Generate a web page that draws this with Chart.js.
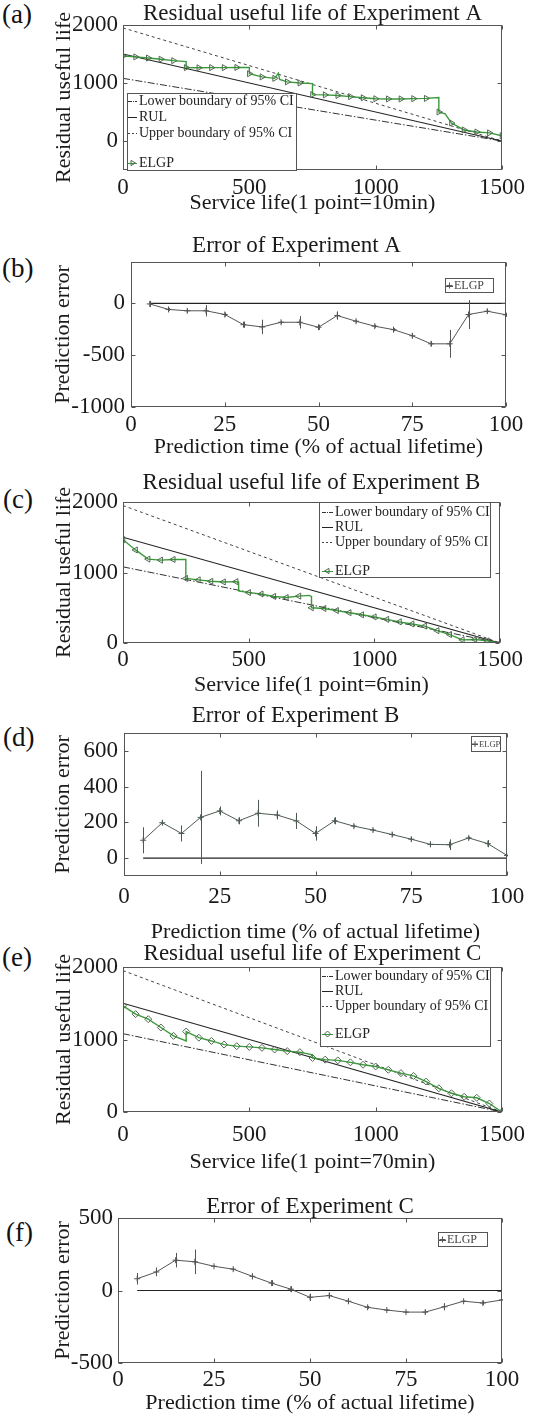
<!DOCTYPE html>
<html>
<head>
<meta charset="utf-8">
<script src="https://cdn.jsdelivr.net/npm/chart.js@4.4.1/dist/chart.umd.min.js"></script>
<style>
  html, body { margin:0; padding:0; background:#fff; }
  body { position:relative; width:554px; height:1415px; overflow:hidden; }
  canvas { position:absolute; left:0; }
  .pl { position:absolute; font-family:"Liberation Serif","Times New Roman",serif; font-size:27px; line-height:1; color:#111; }
</style>
</head>
<body>
<div class="pl" style="left:2px;top:1px">(a)</div>
<div class="pl" style="left:2px;top:255px">(b)</div>
<div class="pl" style="left:3px;top:486px">(c)</div>
<div class="pl" style="left:3px;top:724px">(d)</div>
<div class="pl" style="left:2px;top:944px">(e)</div>
<div class="pl" style="left:6px;top:1219px">(f)</div>

<canvas id="cA" width="554" height="216" style="top:0px"></canvas>
<canvas id="cB" width="554" height="230" style="top:230px"></canvas>
<canvas id="cC" width="554" height="238" style="top:460px"></canvas>
<canvas id="cD" width="554" height="245" style="top:700px"></canvas>
<canvas id="cE" width="554" height="235" style="top:940px"></canvas>
<canvas id="cF" width="554" height="246" style="top:1170px"></canvas>

<script>
// ---------------- DATA ----------------
// reference lines (service-life panels)
const rulX   = [0, 1500];
const rulY   = [1500, 0];
const lowerX = [0, 1500];
const lowerY = [1080, 0];
const upperX = [0, 1500];
const upperY = [1950, 0];

const serviceTicks = [0, 500, 1000, 1500];
const rulTicksA    = [0, 1000, 2000];
const rulTicksBC   = [0, 1000, 2000];
const pctTicks     = [0, 25, 50, 75, 100];
const errTicksA    = [-1000, -500, 0];
const errTicksB    = [0, 200, 400, 600];
const errTicksC    = [-500, 0, 500];

const legendLabels = ['Lower boundary of 95% CI', 'RUL', 'Upper boundary of 95% CI', 'ELGP'];
const errLegendLabel = 'ELGP';

// ELGP prediction, Experiment A (vertices; repeated x = vertical step)
const elgpA_x = [0, 50, 100, 150, 200, 250, 250, 300, 350, 400, 450, 500, 500, 550, 600, 615, 620, 650, 700, 750, 750, 800, 850, 900, 950, 1000, 1050, 1100, 1150, 1200, 1250, 1250, 1275, 1300, 1350, 1400, 1450, 1500];
const elgpA_y = [1465, 1450, 1430, 1410, 1385, 1370, 1265, 1262, 1265, 1265, 1268, 1270, 1160, 1105, 1080, 1170, 1060, 1020, 1000, 990, 800, 795, 785, 765, 745, 728, 725, 725, 730, 735, 750, 500, 470, 310, 190, 155, 140, 90];

// ELGP prediction, Experiment B
const elgpB_x = [0, 50, 100, 150, 200, 250, 250, 300, 350, 400, 450, 460, 460, 500, 550, 600, 650, 700, 740, 750, 750, 800, 850, 900, 950, 1000, 1050, 1100, 1150, 1200, 1250, 1300, 1350, 1400, 1450, 1500];
const elgpB_y = [1465, 1320, 1190, 1175, 1185, 1185, 915, 895, 875, 866, 870, 865, 740, 715, 695, 660, 645, 665, 675, 660, 500, 490, 460, 430, 400, 370, 335, 300, 270, 240, 175, 120, 45, 50, 30, 0];

// ELGP prediction, Experiment C
const elgpC_x = [0, 50, 100, 150, 200, 250, 250, 300, 350, 400, 450, 500, 550, 600, 650, 700, 750, 750, 800, 850, 900, 950, 1000, 1050, 1100, 1150, 1200, 1250, 1300, 1350, 1400, 1450, 1500];
const elgpC_y = [1465, 1350, 1280, 1165, 1050, 980, 1110, 1025, 980, 930, 908, 898, 885, 862, 840, 825, 790, 745, 722, 712, 685, 652, 628, 582, 536, 498, 420, 327, 258, 210, 196, 117, 0];

// prediction error (% of actual lifetime)
const errX   = [5, 10, 15, 20, 25, 30, 35, 40, 45, 50, 55, 60, 65, 70, 75, 80, 85, 90, 95, 100];
const errA   = [-5, -58, -71, -71, -107, -205, -227, -182, -182, -230, -117, -172, -220, -253, -312, -390, -390, -107, -75, -110];
const errA_e = [30, 15, 20, 55, 20, 30, 70, 15, 60, 25, 40, 15, 15, 15, 25, 25, 135, 140, 20, 20];
const errB   = [100, 198, 138, 228, 264, 209, 251, 241, 208, 138, 209, 179, 157, 132, 106, 77, 75, 113, 81, 15];
const errB_e = [73, 12, 45, 260, 25, 20, 75, 25, 45, 40, 20, 8, 8, 12, 12, 15, 30, 8, 20, 5];
const errC   = [81, 128, 209, 198, 167, 147, 98, 51, 9, -47, -35, -74, -116, -135, -149, -149, -112, -74, -86, -65];
const errC_e = [40, 30, 50, 85, 5, 10, 20, 20, 20, 25, 20, 20, 10, 5, 5, 15, 25, 5, 15, 5];
const zeroX  = [5, 100];
const zeroY  = [0, 0];

// ---------------- STYLE / HELPERS ----------------
const SERIF = '"Liberation Serif", "Times New Roman", serif';
Chart.defaults.font.family = SERIF;
Chart.defaults.color = '#1a1a1a';
Chart.defaults.animation = false;

const GREEN = '#3a9a3a';
const MARK  = '#4f6a4f';
const TICK_FS = 23, TITLE_FS = 23, AXT_FS = 22;
const xy = (xs, ys) => xs.map((x, i) => ({x: x, y: ys[i]}));

function markerRadius(ctx) {
  const d = ctx.dataset.data, i = ctx.dataIndex;
  if (d[i].x % 50 !== 0) return 0;
  if (i + 1 < d.length && d[i + 1].x === d[i].x) return 0;
  return 3.5;
}

function drawMarker(ctx, style, x, y, r, rot) {
  ctx.beginPath();
  if (style === 'triangle') {
    let a = (rot || 0) * Math.PI / 180;
    for (let k = 0; k < 3; k++) {
      const px = x + Math.sin(a) * r, py = y - Math.cos(a) * r;
      if (k === 0) ctx.moveTo(px, py); else ctx.lineTo(px, py);
      a += 2 * Math.PI / 3;
    }
    ctx.closePath();
  } else if (style === 'rectRot') {
    ctx.moveTo(x, y - r); ctx.lineTo(x + r, y); ctx.lineTo(x, y + r); ctx.lineTo(x - r, y); ctx.closePath();
  } else if (style === 'cross') {
    ctx.moveTo(x - r, y); ctx.lineTo(x + r, y); ctx.moveTo(x, y - r); ctx.lineTo(x, y + r);
  }
  ctx.stroke();
}

const titleShiftPlugin = {
  id: 'titleShift',
  afterLayout(chart, args, o) {
    if (o && o.dx && chart.titleBlock) {
      chart.titleBlock.left += o.dx;
      chart.titleBlock.right += o.dx;
    }
  }
};

const framePlugin = {
  id: 'frameTicks',
  afterDatasetsDraw(chart) {
    const {ctx, chartArea: a, scales} = chart;
    ctx.save();
    ctx.strokeStyle = '#555';
    ctx.lineWidth = 1;
    ctx.setLineDash([]);
    const L = Math.round(a.left) + 0.5, R = Math.round(a.right) - 0.5;
    const T = Math.round(a.top) + 0.5, B = Math.round(a.bottom) - 0.5;
    ctx.strokeRect(L, T, R - L, B - T);
    ctx.beginPath();
    scales.x.ticks.forEach(t => {
      const px = Math.round(scales.x.getPixelForValue(t.value)) + 0.5;
      ctx.moveTo(px, B); ctx.lineTo(px, B - 4);
      ctx.moveTo(px, T); ctx.lineTo(px, T + 4);
    });
    scales.y.ticks.forEach(t => {
      const py = Math.round(scales.y.getPixelForValue(t.value)) + 0.5;
      ctx.moveTo(L, py); ctx.lineTo(L + 4, py);
      ctx.moveTo(R, py); ctx.lineTo(R - 4, py);
    });
    ctx.stroke();
    ctx.restore();
  }
};

const errorBarPlugin = {
  id: 'errorBars',
  afterDatasetsDraw(chart) {
    const {ctx, scales} = chart;
    chart.data.datasets.forEach(ds => {
      if (!ds.errorBars) return;
      ctx.save();
      ctx.strokeStyle = ds.errorColor || '#444';
      ctx.lineWidth = 1;
      ctx.beginPath();
      ds.data.forEach((p, j) => {
        const e = ds.errorBars[j];
        const px = Math.round(scales.x.getPixelForValue(p.x)) + 0.5;
        ctx.moveTo(px, scales.y.getPixelForValue(p.y + e));
        ctx.lineTo(px, scales.y.getPixelForValue(p.y - e));
      });
      ctx.stroke();
      ctx.restore();
    });
  }
};

const legendPlugin = {
  id: 'boxLegend',
  afterDraw(chart, args, o) {
    if (!o || !o.box) return;
    const ctx = chart.ctx, b = o.box;
    ctx.save();
    ctx.fillStyle = '#fff';
    ctx.fillRect(b.x, b.y, b.w, b.h);
    ctx.strokeStyle = '#555'; ctx.lineWidth = 1; ctx.setLineDash([]);
    ctx.strokeRect(b.x + 0.5, b.y + 0.5, b.w - 1, b.h - 1);
    ctx.font = o.fontSize + 'px ' + SERIF;
    ctx.textBaseline = 'middle'; ctx.textAlign = 'left';
    o.items.forEach((it, k) => {
      const y = o.rows[k];
      ctx.strokeStyle = it.color; ctx.lineWidth = 1;
      if (it.dash) {
        ctx.setLineDash(it.dash);
        ctx.beginPath(); ctx.moveTo(o.sx0, Math.round(y) + 0.5); ctx.lineTo(o.sx1, Math.round(y) + 0.5); ctx.stroke();
      }
      ctx.setLineDash([]);
      if (it.marker) {
        ctx.strokeStyle = it.markerColor || it.color;
        drawMarker(ctx, it.marker, (o.sx0 + o.sx1) / 2, y, it.r || 3, it.rot || 0);
      }
      ctx.fillStyle = o.textColor || '#222';
      ctx.fillText(it.label, o.tx, y + 0.5);
    });
    ctx.restore();
  }
};

function makeChart(id, s) {
  const W = 554;
  const canvas = document.getElementById(id);
  const H = canvas.height;
  return new Chart(canvas, {
    type: 'line',
    data: { datasets: s.datasets },
    plugins: [titleShiftPlugin, framePlugin, errorBarPlugin, legendPlugin],
    options: {
      responsive: false,
      animation: false,
      events: [],
      layout: { padding: { left: 0, right: W - s.area.r, top: 0, bottom: 0 } },
      plugins: {
        legend: { display: false },
        tooltip: { enabled: false },
        title: {
          display: true, fullSize: false, text: s.title, color: '#1a1a1a',
          font: { size: TITLE_FS, weight: 'normal', family: SERIF, lineHeight: 1 },
          padding: { top: s.titleY - TITLE_FS / 2, bottom: s.area.t - s.titleY - TITLE_FS / 2 }
        },
        titleShift: { dx: s.titleDx || 0 },
        boxLegend: s.legend || {}
      },
      elements: { line: { tension: 0 } },
      scales: {
        x: {
          type: 'linear', min: s.xMin, max: s.xMax,
          grid: { display: false, drawTicks: false, tickLength: 0 }, border: { display: false },
          afterBuildTicks: sc => { sc.ticks = s.xTicks.map(v => ({value: v})); },
          afterFit: sc => { sc.height = H - s.area.b; },
          ticks: { font: { size: TICK_FS, family: SERIF, lineHeight: 1 }, color: '#1a1a1a',
                   padding: s.xTickY - s.area.b - TICK_FS / 2, maxRotation: 0, autoSkip: false,
                   callback: v => String(v) },
          title: { display: true, text: s.xTitle, color: '#1a1a1a',
                   font: { size: AXT_FS, family: SERIF, lineHeight: 1 },
                   padding: { top: 0, bottom: H - s.xTitleY - AXT_FS / 2 } }
        },
        y: {
          type: 'linear', min: s.yMin, max: s.yMax,
          grid: { display: false, drawTicks: false, tickLength: 0 }, border: { display: false },
          afterBuildTicks: sc => { sc.ticks = s.yTicks.map(v => ({value: v})); },
          afterFit: sc => { sc.width = s.area.l; },
          ticks: { font: { size: TICK_FS, family: SERIF, lineHeight: 1 }, color: '#1a1a1a',
                   padding: s.yTickPad, autoSkip: false, callback: v => String(v) },
          title: { display: true, text: s.yTitle, color: '#1a1a1a',
                   font: { size: AXT_FS, family: SERIF, lineHeight: 1 },
                   padding: { top: s.yTitleX - AXT_FS / 2, bottom: 0 } }
        }
      }
    }
  });
}

function rulDatasets(ex, ey, rot, style) {
  return [
    { data: xy(ex, ey), borderColor: GREEN, borderWidth: 1.4,
      pointStyle: style, pointRotation: rot, pointRadius: markerRadius,
      pointBorderColor: MARK, pointBackgroundColor: 'rgba(0,0,0,0)', pointBorderWidth: 1 },
    { data: xy(rulX, rulY), borderColor: '#222', borderWidth: 1.2, pointRadius: 0 },
    { data: xy(upperX, upperY), borderColor: '#444', borderWidth: 1, borderDash: [3, 3], pointRadius: 0 },
    { data: xy(lowerX, lowerY), borderColor: '#333', borderWidth: 1, borderDash: [7, 2, 1.5, 2], pointRadius: 0 }
  ];
}

function rulLegend(box, sx0, sx1, tx, rows, marker, rot) {
  return {
    box: box, sx0: sx0, sx1: sx1, tx: tx, rows: rows, fontSize: 14, textColor: '#222',
    items: [
      { label: legendLabels[0], color: '#333', dash: [4, 1, 1, 1] },
      { label: legendLabels[1], color: '#222', dash: [] },
      { label: legendLabels[2], color: '#444', dash: [2, 2] },
      { label: legendLabels[3], color: GREEN, dash: [], marker: marker, rot: rot, r: 3, markerColor: MARK }
    ]
  };
}

function errDatasets(ys, es, col) {
  return [
    { data: xy(errX, ys), borderColor: col, borderWidth: 1, pointStyle: 'cross', pointRadius: 3,
      pointBorderColor: col, pointBorderWidth: 1, errorBars: es, errorColor: col },
    { data: xy(zeroX, zeroY), borderColor: '#222', borderWidth: 1.2, pointRadius: 0 }
  ];
}

function errLegend(box, sx0, sx1, tx, row, fs) {
  return {
    box: box, sx0: sx0, sx1: sx1, tx: tx, rows: [row], fontSize: fs, textColor: '#444',
    items: [{ label: errLegendLabel, color: '#555', dash: [], marker: 'cross', r: 3 }]
  };
}

// (a)
makeChart('cA', {
  area: {l: 123, r: 502, t: 25, b: 170}, titleY: 14, xTickY: 188, xTitleY: 203, yTitleX: 64, yTickPad: 5,
  title: 'Residual useful life of Experiment A', xTitle: 'Service life(1 point=10min)', yTitle: 'Residual useful life',
  xMin: 0, xMax: 1500, yMin: -500, yMax: 2000, xTicks: serviceTicks, yTicks: rulTicksA,
  datasets: rulDatasets(elgpA_x, elgpA_y, 90, 'triangle'),
  legend: rulLegend({x: 127, y: 93, w: 170, h: 78}, 128, 137, 139, [101, 117, 133, 163], 'triangle', 90)
});

// (b)
makeChart('cB', {
  area: {l: 131, r: 506, t: 32, b: 177}, titleY: 16, titleDx: -22, xTickY: 194.5, xTitleY: 217, yTitleX: 63, yTickPad: 6,
  title: 'Error of Experiment A', xTitle: 'Prediction time (% of actual lifetime)', yTitle: 'Prediction error',
  xMin: 0, xMax: 100, yMin: -1000, yMax: 400, xTicks: pctTicks, yTicks: errTicksA,
  datasets: errDatasets(errA, errA_e, '#555'),
  legend: errLegend({x: 445, y: 48, w: 49, h: 15}, 446, 453, 454, 55.5, 12)
});

// (c)
makeChart('cC', {
  area: {l: 123, r: 500, t: 42, b: 183}, titleY: 23, xTickY: 200, xTitleY: 225, yTitleX: 64, yTickPad: 5,
  title: 'Residual useful life of Experiment B', xTitle: 'Service life(1 point=6min)', yTitle: 'Residual useful life',
  xMin: 0, xMax: 1500, yMin: 0, yMax: 2000, xTicks: serviceTicks, yTicks: rulTicksBC,
  datasets: rulDatasets(elgpB_x, elgpB_y, -90, 'triangle'),
  legend: rulLegend({x: 319, y: 42, w: 172, h: 76}, 322, 333, 335, [52, 67, 82, 111], 'triangle', -90)
});

// (d)
makeChart('cD', {
  area: {l: 124, r: 507, t: 33, b: 176}, titleY: 16, titleDx: -20, xTickY: 197, xTitleY: 232, yTitleX: 63, yTickPad: 6,
  title: 'Error of Experiment B', xTitle: 'Prediction time (% of actual lifetime)', yTitle: 'Prediction error',
  xMin: 0, xMax: 100, yMin: -100, yMax: 700, xTicks: pctTicks, yTicks: errTicksB,
  datasets: errDatasets(errB, errB_e, '#4d5a52'),
  legend: errLegend({x: 471, y: 36, w: 30, h: 16}, 472, 478, 479, 44, 8.5)
});

// (e)
makeChart('cE', {
  area: {l: 123, r: 502, t: 27, b: 172}, titleY: 14, xTickY: 195, xTitleY: 222, yTitleX: 64, yTickPad: 5,
  title: 'Residual useful life of Experiment C', xTitle: 'Service life(1 point=70min)', yTitle: 'Residual useful life',
  xMin: 0, xMax: 1500, yMin: 0, yMax: 2000, xTicks: serviceTicks, yTicks: rulTicksBC,
  datasets: rulDatasets(elgpC_x, elgpC_y, 0, 'rectRot'),
  legend: rulLegend({x: 320, y: 27, w: 171, h: 80}, 322, 333, 335, [36, 51, 66, 94], 'rectRot', 0)
});

// (f)
makeChart('cF', {
  area: {l: 118, r: 502, t: 48, b: 193}, titleY: 37, xTickY: 210, xTitleY: 233, yTitleX: 63, yTickPad: 5,
  title: 'Error of Experiment C', xTitle: 'Prediction time (% of actual lifetime)', yTitle: 'Prediction error',
  xMin: 0, xMax: 100, yMin: -500, yMax: 500, xTicks: pctTicks, yTicks: errTicksC,
  datasets: errDatasets(errC, errC_e, '#555'),
  legend: errLegend({x: 438, y: 62, w: 50, h: 15}, 439, 446, 447, 69.5, 12)
});
</script>
</body>
</html>
